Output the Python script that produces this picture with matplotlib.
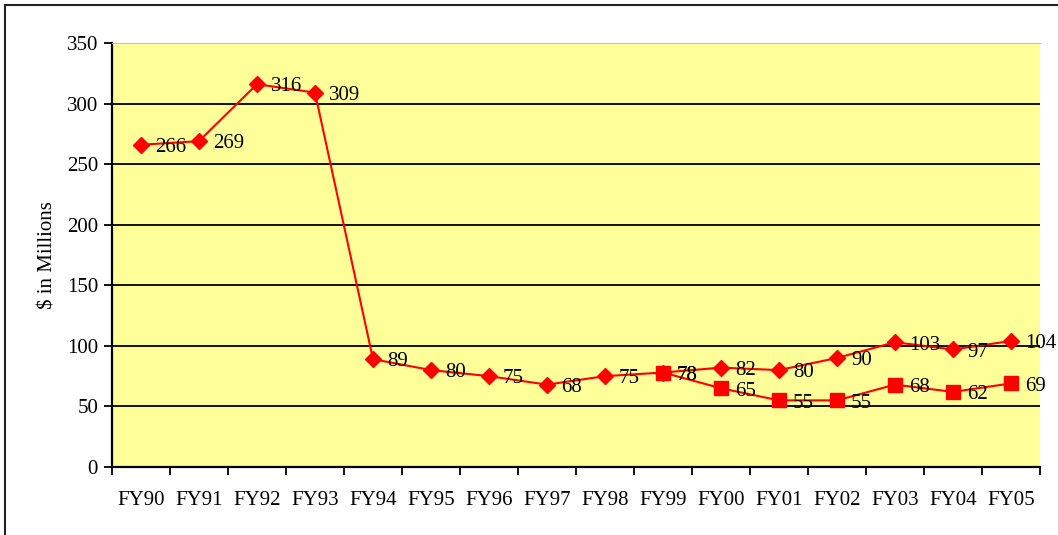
import matplotlib
matplotlib.use("Agg")
import matplotlib.pyplot as plt
from matplotlib.patches import Rectangle

plt.rcParams['font.family'] = ['Liberation Serif', 'DejaVu Serif']

years = ["FY90", "FY91", "FY92", "FY93", "FY94", "FY95", "FY96", "FY97",
         "FY98", "FY99", "FY00", "FY01", "FY02", "FY03", "FY04", "FY05"]
total = [266, 269, 316, 309, 89, 80, 75, 68, 75, 78, 82, 80, 90, 103, 97, 104]
sub_years = ["FY99", "FY00", "FY01", "FY02", "FY03", "FY04", "FY05"]
sub = [78, 65, 55, 55, 68, 62, 69]

fs = 15

fig = plt.figure(figsize=(10.58, 5.35), dpi=100)
ax = fig.add_axes([112/1058, 1 - 467/535, (1040 - 112)/1058, (467 - 43)/535])
ax.set_facecolor('#FFFF99')

x_all = list(range(len(years)))
x_sub = [years.index(y) for y in sub_years]

ax.plot(x_all, total, color='red', lw=1.5, marker='D', markersize=8, zorder=3)
ax.plot(x_sub, sub, color='red', lw=1.5, marker='s', markersize=10.5, zorder=3)

# data labels to the right of each point
for xi, v in zip(x_all, total):
    ax.annotate(str(v), (xi, v), xytext=(10, -2), textcoords='offset points',
                ha='left', va='center', fontsize=fs, zorder=4)
for xi, v in zip(x_sub, sub):
    ax.annotate(str(v), (xi, v), xytext=(10, -2), textcoords='offset points',
                ha='left', va='center', fontsize=fs, zorder=4)

ax.set_xlim(-0.5, len(years) - 0.5)
ax.set_ylim(0, 350)
ax.set_yticks(range(0, 351, 50))
ax.yaxis.grid(True, color='black', lw=1.3)
ax.set_axisbelow(True)

# ticks between categories, labels at category centres
ax.set_xticks([i - 0.5 for i in range(len(years) + 1)])
ax.set_xticklabels([])
ax.set_xticks(x_all, minor=True)
ax.set_xticklabels(years, minor=True)
ax.tick_params(axis='x', which='major', length=6, width=1.3, direction='out')
ax.tick_params(axis='x', which='minor', length=0, pad=17, labelsize=fs)
ax.tick_params(axis='y', length=6, width=1.3, labelsize=fs, pad=4)

ax.spines['right'].set_visible(False)
ax.spines['top'].set_color('#C0C0C0')
ax.spines['left'].set_linewidth(1.6)
ax.spines['bottom'].set_linewidth(1.6)

ax.set_ylabel("$ in Millions", fontsize=fs, labelpad=7)

fig.patches.append(Rectangle((5/1058, -0.1), 1.2, 1.1 - 5/535, transform=fig.transFigure,
                             fill=False, edgecolor='#222222', lw=1.5))

fig.savefig("out.png", dpi=100)
